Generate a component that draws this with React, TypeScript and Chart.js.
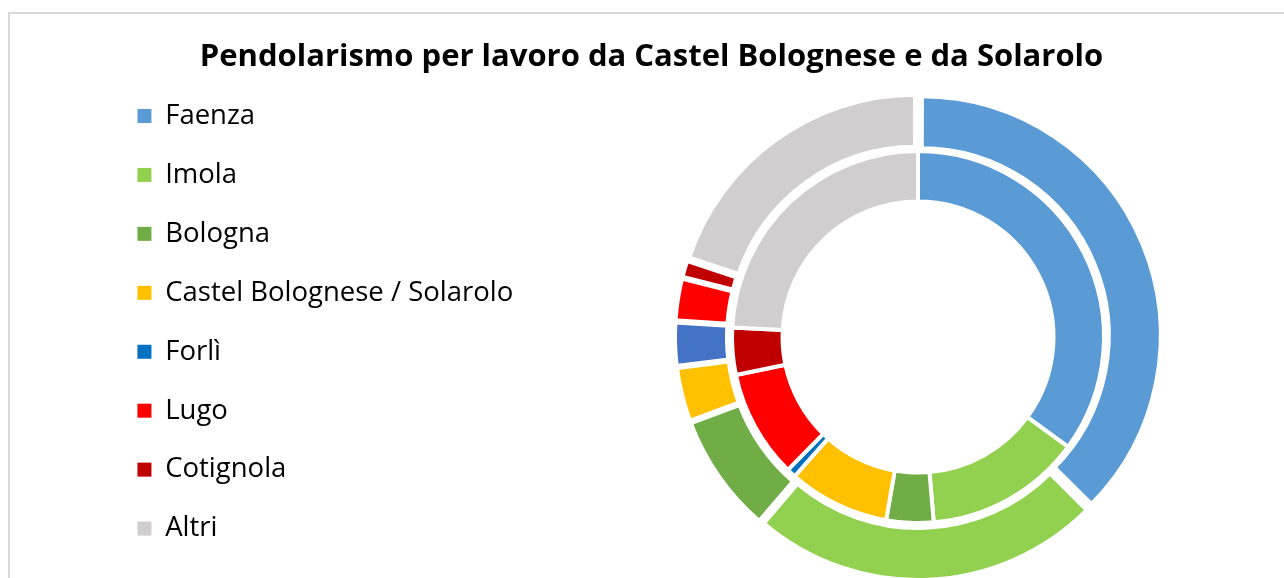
import React, { useEffect, useRef } from "react";
import { Chart, registerables } from "chart.js";

Chart.register(...registerables);

const title = "Pendolarismo per lavoro da Castel Bolognese e da Solarolo";
const categories = [
  "Faenza",
  "Imola",
  "Bologna",
  "Castel Bolognese / Solarolo",
  "Forlì",
  "Lugo",
  "Cotignola",
  "Altri",
];
// outer ring (percent of commuters)
const outerValues = [37.5, 23.8, 8.1, 3.7, 3.0, 2.9, 1.2, 19.9];
// inner ring (percent of commuters)
const innerValues = [35.1, 13.6, 4.1, 8.8, 0.8, 9.4, 4.1, 24.2];

const outerColors = ["#5B9BD5", "#92D050", "#70AD47", "#FFC000", "#4472C4", "#FF0000", "#C00000", "#D0CECE"];
const innerColors = ["#5B9BD5", "#92D050", "#70AD47", "#FFC000", "#0070C0", "#FF0000", "#C00000", "#D0CECE"];
// slight explosion of the outer ring slices
const outerExplode = [14, 18, 12, 10, 10, 10, 9.4, 17];

export default function App() {
  const ref = useRef<HTMLCanvasElement | null>(null);

  useEffect(() => {
    if (!ref.current) return;
    const chart = new Chart(ref.current, {
      type: "doughnut",
      data: {
        labels: categories,
        datasets: [
          {
            label: "Castel Bolognese",
            data: outerValues,
            backgroundColor: outerColors,
            borderColor: "#FFFFFF",
            borderWidth: 5,
            offset: outerExplode,
            weight: 53,
          },
          {
            label: "Solarolo",
            data: innerValues,
            backgroundColor: innerColors,
            borderColor: "#FFFFFF",
            borderWidth: 4,
            weight: 50.5,
          },
        ],
      } as any,
      options: {
        animation: false,
        responsive: true,
        maintainAspectRatio: false,
        events: [],
        radius: 239,
        cutout: "56.69%",
        layout: { padding: 0 },
        plugins: {
          tooltip: { enabled: false },
          title: {
            display: true,
            text: title,
            color: "#000000",
            font: { family: "Open Sans", size: 31, weight: "bold", lineHeight: 0.9 },
            padding: { top: 29.15, bottom: -30 },
          },
          subtitle: {
            display: true,
            fullSize: false,
            position: "left",
            text: "",
            font: { size: 10, lineHeight: 1 },
            padding: { top: 523, bottom: 0 },
          },
          legend: {
            display: true,
            position: "chartArea",
            align: "start",
            title: {
              display: true,
              text: "",
              font: { size: 10, lineHeight: 1 },
              padding: { top: 46.8, bottom: 0 },
            },
            labels: {
              font: { family: "Open Sans", size: 27.5 },
              color: "#000000",
              boxWidth: 14,
              boxHeight: 14,
              padding: 31.44,
              generateLabels: () =>
                categories.map((c, i) => ({
                  text: c,
                  fillStyle: innerColors[i],
                  strokeStyle: innerColors[i],
                  lineWidth: 0,
                  hidden: false,
                  index: i,
                  fontColor: "#000000",
                })),
            },
          },
        },
      } as any,
    });
    return () => chart.destroy();
  }, []);

  return (
    <div style={{ position: "fixed", left: 0, top: 0, width: 1284, height: 578, overflow: "hidden", background: "#fff" }}>
      <div
        style={{
          position: "absolute",
          left: 8,
          top: 12,
          width: 1400,
          height: 700,
          borderLeft: "2px solid #D9D9D9",
          borderTop: "2px solid #D9D9D9",
          overflow: "hidden",
        }}
      >
        <div style={{ position: "absolute", left: -437.5, top: 0, width: 2157, height: 619 }}>
          <canvas ref={ref} />
        </div>
      </div>
    </div>
  );
}
